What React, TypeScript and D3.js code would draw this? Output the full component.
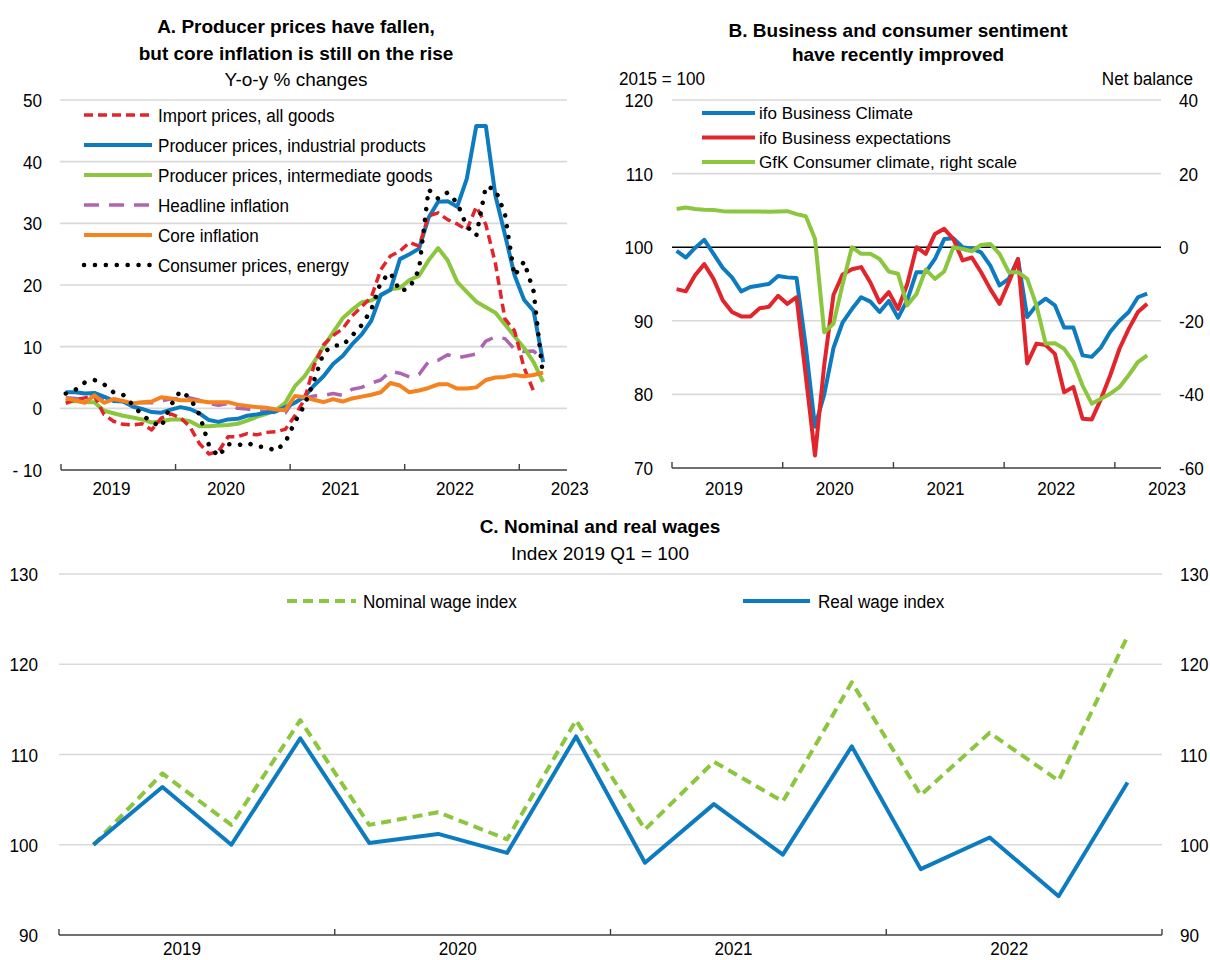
import React from "react";
import * as d3 from "d3";

const FONT = '"Liberation Sans", Arial, Helvetica, sans-serif';

// ---------- Panel A: monthly, Jan 2019 .. Mar 2023 ----------
const yearLabels = ["2019", "2020", "2021", "2022", "2023"];
const ticksA = [50, 40, 30, 20, 10, 0, -10];
const tickLabelsA = ["50", "40", "30", "20", "10", "0", "- 10"];

const importPrices = [
  0.8, 1.4, 1.7, 2.0, -1.0, -2.1, -2.6, -2.7, -2.5, -3.5, -1.6, -0.9,
  -1.5, -3.0, -5.7, -7.4, -7.0, -4.6, -4.6, -4.1, -4.3, -3.9, -3.8, -3.4,
  -1.2, 1.4, 6.9, 10.3, 11.8, 12.9, 15.0, 16.5, 18.0, 22.5, 24.7, 25.5,
  26.9, 26.3, 31.2, 31.7, 30.6, 29.9, 28.9, 32.7, 29.8, 23.5, 14.5, 12.6,
  6.6, 2.8,
];
const ppiIndustrial = [
  2.6, 2.6, 2.4, 2.5, 1.9, 1.2, 1.1, 0.3, -0.1, -0.6, -0.7, -0.2,
  0.2, -0.1, -0.8, -1.9, -2.2, -1.8, -1.7, -1.2, -1.0, -0.7, -0.5, 0.2,
  0.9, 1.9, 3.7, 5.2, 7.2, 8.5, 10.4, 12.0, 14.2, 18.4, 19.2, 24.2,
  25.0, 25.9, 30.9, 33.5, 33.6, 32.7, 37.2, 45.8, 45.8, 34.5, 28.2, 21.6,
  17.6, 15.8, 7.5,
];
const ppiIntermediate = [
  1.1, 1.2, 1.0, 1.0, -0.4, -0.8, -1.2, -1.5, -1.8, -2.3, -2.1, -1.8,
  -1.8, -2.1, -2.9, -2.9, -2.8, -2.7, -2.5, -2.0, -1.4, -0.9, -0.3, 0.9,
  3.6, 5.2, 7.5, 10.0, 12.3, 14.6, 16.0, 17.2, 17.5, 18.3, 19.3, 19.5,
  20.8, 21.5, 24.0, 26.0, 24.0, 20.5, 18.9, 17.3, 16.4, 15.5, 13.6, 11.7,
  9.8, 7.5, 4.3,
];
const headline = [
  1.7, 1.6, 1.4, 2.1, 1.3, 1.5, 1.1, 1.0, 0.9, 0.9, 1.2, 1.5,
  1.6, 1.7, 1.3, 0.8, 0.5, 0.8, 0.0, -0.1, -0.4, -0.5, -0.7, -0.7,
  1.6, 1.6, 2.0, 2.1, 2.4, 2.1, 3.1, 3.4, 4.1, 4.6, 6.0, 5.7,
  5.1, 5.5, 7.6, 7.8, 8.7, 8.2, 8.5, 8.8, 10.9, 11.6, 11.3, 9.6,
  9.2, 9.3, 7.8,
];
const core = [
  1.6, 1.3, 0.9, 2.1, 0.9, 1.5, 1.2, 0.8, 1.0, 1.1, 1.8, 1.6,
  1.3, 1.3, 1.2, 1.0, 1.0, 1.0, 0.6, 0.4, 0.2, 0.1, -0.2, -0.3,
  2.0, 1.8, 1.4, 1.0, 1.5, 1.1, 1.6, 1.9, 2.2, 2.6, 4.1, 3.7,
  2.6, 2.9, 3.3, 3.9, 3.9, 3.2, 3.2, 3.4, 4.6, 5.0, 5.1, 5.4,
  5.2, 5.4, 5.8,
];
const energy = [
  2.4, 3.0, 4.2, 4.6, 3.9, 2.6, 2.2, 0.6, -1.1, -2.2, -3.0, 0.5,
  2.8, 1.7, -1.0, -6.0, -7.8, -5.8, -6.0, -5.6, -6.2, -6.3, -6.9, -5.5,
  -2.2, 0.5, 4.5, 9.0, 10.2, 10.2, 11.8, 13.5, 16.0, 20.5, 22.0, 19.0,
  19.5, 22.5, 35.5, 34.0, 35.0, 33.3, 29.5, 28.0, 36.0, 35.5, 31.5, 21.5,
  23.8, 19.0, 5.0,
];

// ---------- Panel B: monthly, Jan 2019 .. Apr 2023 ----------
const ticksBLeft = [120, 110, 100, 90, 80, 70];
const ticksBRight = [40, 20, 0, -20, -40, -60];
const ifoClimate = [
  99.5, 98.6, 99.9, 101.0, 99.1, 97.2, 95.9, 94.0, 94.6, 94.8, 95.0, 96.1,
  95.9, 95.8, 86.5, 75.6, 80.0, 86.3, 89.8, 91.6, 93.2, 92.6, 91.2, 92.7,
  90.4, 92.8, 96.6, 96.6, 98.4, 101.1, 101.2, 100.0, 99.8, 99.3, 97.5, 94.8,
  95.7, 98.4, 90.5, 92.1, 93.0, 92.1, 89.1, 89.1, 85.3, 85.1, 86.4, 88.5,
  90.0, 91.2, 93.2, 93.7,
];
const ifoExpect = [
  94.3, 94.0, 96.2, 97.7, 95.7, 92.8, 91.2, 90.6, 90.6, 91.7, 91.9, 93.4,
  92.3, 93.2, 82.5, 71.7, 84.0, 93.5, 96.3, 97.0, 97.3, 95.2, 92.5, 93.9,
  91.6, 95.0, 100.0, 99.1, 101.8, 102.5, 101.1, 98.2, 98.6, 96.6, 94.3, 92.3,
  95.2, 98.4, 84.2, 86.9, 86.7, 85.5, 80.3, 81.0, 76.7, 76.6, 79.4, 82.6,
  86.2, 88.9, 91.2, 92.3,
];
const gfk = [
  10.4, 10.8, 10.4, 10.2, 10.1, 9.8, 9.7, 9.7, 9.7, 9.7, 9.6, 9.7,
  9.8, 9.0, 8.4, 2.3, -23.1, -20.8, -10.0, 0.0, -1.8, -1.8, -3.2, -6.6,
  -7.2, -15.8, -12.7, -6.1, -8.6, -6.6, 0.0, -0.5, -1.1, 0.6, 0.9, -1.8,
  -6.8, -6.8, -8.6, -15.8, -26.2, -26.1, -27.6, -31.2, -37.6, -42.5, -41.2, -39.8,
  -38.0, -34.8, -31.2, -29.4,
];

// ---------- Panel C: quarterly, 2019 Q1 .. 2022 Q4 ----------
const ticksC = [130, 120, 110, 100, 90];
const nominalWage = [100, 107.9, 102.2, 113.8, 102.2, 103.6, 100.6, 113.8, 101.7, 109.2, 104.8, 118.0, 105.5, 112.4, 107.1, 123.1];
const realWage = [100, 106.4, 100.0, 111.8, 100.2, 101.2, 99.1, 112.0, 98.0, 104.5, 98.9, 110.9, 97.3, 100.8, 94.3, 106.9];

// colours
const BLUE = "#0C7BC0";
const RED = "#E2242B";
const GREEN = "#8CC63F";
const PURPLE = "#AE65B0";
const ORANGE = "#F5821F";
const GRID = "#D9D9D9";
const AXIS = "#404040";

function T(props: any) {
  const { x, y, children, anchor = "start", size = 19, sx = 0.9, weight = "normal" } = props;
  return (
    <text
      transform={`translate(${x},${y}) scale(${sx},1)`}
      textAnchor={anchor}
      fontSize={size}
      fontWeight={weight}
      fontFamily={FONT}
      fill="#000"
    >
      {children}
    </text>
  );
}

export default function App() {
  // Panel A scales
  const xA = d3.scaleLinear().domain([0, 53]).range([61, 567]);
  const yA = d3.scaleLinear().domain([-10, 50]).range([470, 100]);
  const lineA = d3
    .line<number>()
    .x((_d, i) => xA(i + 0.5))
    .y((d) => yA(d));

  // Panel B scales
  const xB = d3.scaleLinear().domain([0, 53]).range([672, 1161]);
  const yB = d3.scaleLinear().domain([70, 120]).range([468, 100]);
  const yBR = d3.scaleLinear().domain([-60, 40]).range([468, 100]);
  const lineB = d3
    .line<number>()
    .x((_d, i) => xB(i + 0.5))
    .y((d) => yB(d));
  const lineBR = d3
    .line<number>()
    .x((_d, i) => xB(i + 0.5))
    .y((d) => yBR(d));

  // Panel C scales
  const xC = d3.scaleLinear().domain([0, 16]).range([59, 1162]);
  const yC = d3.scaleLinear().domain([90, 130]).range([935, 574]);
  const lineC = d3
    .line<number>()
    .x((_d, i) => xC(i + 0.5))
    .y((d) => yC(d));

  const legendA = [
    { label: "Import prices, all goods", color: RED, dash: "9 5", w: 3.5, cap: "butt" },
    { label: "Producer prices, industrial products", color: BLUE, dash: "", w: 4, cap: "butt" },
    { label: "Producer prices, intermediate goods", color: GREEN, dash: "", w: 4, cap: "butt" },
    { label: "Headline inflation", color: PURPLE, dash: "15 10", w: 3.5, cap: "butt" },
    { label: "Core inflation", color: ORANGE, dash: "", w: 4, cap: "butt" },
    { label: "Consumer prices, energy", color: "#000", dash: "0.1 10.8", w: 4.5, cap: "round" },
  ];
  const seriesA = [
    { data: headline, ...legendA[3] },
    { data: ppiIntermediate, ...legendA[2] },
    { data: ppiIndustrial, ...legendA[1] },
    { data: importPrices, ...legendA[0] },
    { data: core, ...legendA[4] },
    { data: energy, ...legendA[5] },
  ];

  const legendB = [
    { label: "ifo Business Climate", color: BLUE },
    { label: "ifo Business expectations", color: RED },
    { label: "GfK Consumer climate, right scale", color: GREEN },
  ];

  const yearIdx = [0, 1, 2, 3, 4];

  return (
    <svg
      width={1210}
      height={960}
      style={{ position: "absolute", left: 0, top: 0, background: "#fff" }}
    >
      <rect x={0} y={0} width={1210} height={960} fill="#fff" />

      {/* ================= Panel A ================= */}
      <T x={296} y={33} anchor="middle" weight="bold" sx={1} size={19}>
        A. Producer prices have fallen,
      </T>
      <T x={296} y={60} anchor="middle" weight="bold" sx={1} size={19}>
        but core inflation is still on the rise
      </T>
      <T x={296} y={86} anchor="middle" sx={1} size={19}>
        Y-o-y % changes
      </T>
      {ticksA.slice(0, 6).map((t) => (
        <line key={"ga" + t} x1={60} x2={567} y1={yA(t)} y2={yA(t)} stroke={GRID} strokeWidth={1.6} />
      ))}
      {ticksA.map((t, i) => (
        <T key={"ta" + t} x={42} y={yA(t) + 7} anchor="end">
          {tickLabelsA[i]}
        </T>
      ))}
      <line x1={61} x2={567} y1={yA(-10)} y2={yA(-10)} stroke={AXIS} strokeWidth={1.6} />
      {yearIdx.map((k) => (
        <line key={"tka" + k} x1={xA(12 * k)} x2={xA(12 * k)} y1={yA(-10)} y2={yA(-10) - 6} stroke={AXIS} strokeWidth={1.4} />
      ))}
      {yearLabels.map((lab, k) => (
        <T key={"ya" + lab} x={xA(12 * k + 12 * 0.44)} y={495} anchor="middle">
          {lab}
        </T>
      ))}
      {seriesA.map((s, i) => (
        <path
          key={"sa" + i}
          d={lineA(s.data) || ""}
          fill="none"
          stroke={s.color}
          strokeWidth={s.w}
          strokeDasharray={s.dash || undefined}
          strokeLinecap={s.cap as any}
          strokeLinejoin="round"
        />
      ))}
      {legendA.map((l, k) => (
        <g key={"la" + k}>
          <line
            x1={84}
            x2={152}
            y1={115 + 30 * k}
            y2={115 + 30 * k}
            stroke={l.color}
            strokeWidth={l.w}
            strokeDasharray={l.dash || undefined}
            strokeLinecap={l.cap as any}
          />
          <T x={158} y={115 + 30 * k + 7}>
            {l.label}
          </T>
        </g>
      ))}

      {/* ================= Panel B ================= */}
      <T x={898} y={37} anchor="middle" weight="bold" sx={1} size={19}>
        B. Business and consumer sentiment
      </T>
      <T x={898} y={61} anchor="middle" weight="bold" sx={1} size={19}>
        have recently improved
      </T>
      <T x={619} y={85}>2015 = 100</T>
      <T x={1193} y={85} anchor="end">
        Net balance
      </T>
      {ticksBLeft.slice(0, 5).map((t) => (
        <line
          key={"gb" + t}
          x1={672}
          x2={1161}
          y1={yB(t)}
          y2={yB(t)}
          stroke={t === 100 ? "#000" : GRID}
          strokeWidth={t === 100 ? 1.4 : 1.6}
        />
      ))}
      {ticksBLeft.map((t) => (
        <T key={"tbl" + t} x={653} y={yB(t) + 7} anchor="end">
          {String(t)}
        </T>
      ))}
      {ticksBRight.map((t) => (
        <T key={"tbr" + t} x={1179} y={yBR(t) + 7}>
          {String(t)}
        </T>
      ))}
      <line x1={672} x2={1161} y1={yB(70)} y2={yB(70)} stroke={AXIS} strokeWidth={1.6} />
      {yearIdx.map((k) => (
        <line key={"tkb" + k} x1={xB(12 * k)} x2={xB(12 * k)} y1={yB(70)} y2={yB(70) - 6} stroke={AXIS} strokeWidth={1.4} />
      ))}
      {yearLabels.map((lab, k) => (
        <T key={"yb" + lab} x={xB(12 * k + 12 * 0.47)} y={495} anchor="middle">
          {lab}
        </T>
      ))}
      <path d={lineB(ifoClimate) || ""} fill="none" stroke={BLUE} strokeWidth={4} strokeLinejoin="round" />
      <path d={lineB(ifoExpect) || ""} fill="none" stroke={RED} strokeWidth={4} strokeLinejoin="round" />
      <path d={lineBR(gfk) || ""} fill="none" stroke={GREEN} strokeWidth={4} strokeLinejoin="round" />
      {legendB.map((l, k) => (
        <g key={"lb" + k}>
          <line x1={702} x2={755} y1={113 + 24.5 * k} y2={113 + 24.5 * k} stroke={l.color} strokeWidth={4} />
          <T x={759} y={113 + 24.5 * k + 6} size={17} sx={1}>
            {l.label}
          </T>
        </g>
      ))}

      {/* ================= Panel C ================= */}
      <T x={600} y={533} anchor="middle" weight="bold" sx={1} size={19}>
        C. Nominal and real wages
      </T>
      <T x={600} y={560} anchor="middle" sx={1} size={19}>
        Index 2019 Q1 = 100
      </T>
      {ticksC.slice(0, 4).map((t) => (
        <line key={"gc" + t} x1={59} x2={1162} y1={yC(t)} y2={yC(t)} stroke={GRID} strokeWidth={1.6} />
      ))}
      {ticksC.map((t) => (
        <T key={"tcl" + t} x={38} y={yC(t) + 7} anchor="end">
          {String(t)}
        </T>
      ))}
      {ticksC.map((t) => (
        <T key={"tcr" + t} x={1180} y={yC(t) + 7}>
          {String(t)}
        </T>
      ))}
      <line x1={59} x2={1162} y1={yC(90)} y2={yC(90)} stroke={AXIS} strokeWidth={1.6} />
      {yearIdx.map((k) => (
        <line key={"tkc" + k} x1={xC(4 * k)} x2={xC(4 * k)} y1={yC(90)} y2={yC(90) - 6} stroke={AXIS} strokeWidth={1.4} />
      ))}
      {yearLabels.slice(0, 4).map((lab, k) => (
        <T key={"yc" + lab} x={xC(4 * k + 4 * 0.446)} y={955} anchor="middle">
          {lab}
        </T>
      ))}
      <path d={lineC(nominalWage) || ""} fill="none" stroke={GREEN} strokeWidth={4} strokeDasharray="10 6" strokeLinejoin="round" />
      <path d={lineC(realWage) || ""} fill="none" stroke={BLUE} strokeWidth={4} strokeLinejoin="round" />
      <line x1={287} x2={356} y1={601} y2={601} stroke={GREEN} strokeWidth={4} strokeDasharray="10 6" />
      <T x={363} y={608}>Nominal wage index</T>
      <line x1={743} x2={810} y1={601} y2={601} stroke={BLUE} strokeWidth={4} />
      <T x={818} y={608}>Real wage index</T>
    </svg>
  );
}
